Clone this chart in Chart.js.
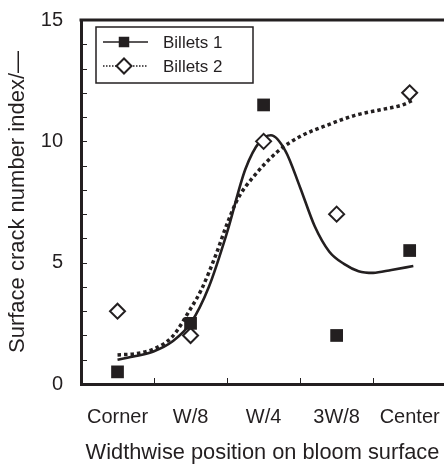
<!DOCTYPE html>
<html lang="en">
<head>
  <meta charset="UTF-8" />
  <title>Surface crack number index</title>
  <script src="https://cdn.jsdelivr.net/npm/chart.js"></script>
  <style>
    body { margin: 0; background: #fff; }
  </style>
</head>
<body>
  <canvas id="crackChart" width="444" height="466"></canvas>

  <script>
    const positions = ['Corner', 'W/8', 'W/4', '3W/8', 'Center'];
    const billets1 = [0.5, 2.5, 11.5, 2.0, 5.5];
    const billets2 = [3, 2, 10, 7, 12];
    const yTicks = [0, 5, 10, 15];

    // trend curves
    const fit1X = [0, 0.25, 0.5, 0.75, 1.0, 1.25, 1.5, 1.75, 1.95, 2.1, 2.3, 2.5, 2.7, 2.9, 3.1, 3.3, 3.5, 3.75, 4.05];
    const fit1Y = [1.0, 1.15, 1.35, 1.75, 2.5, 4.0, 6.25, 8.85, 10.0, 10.25, 9.6, 8.1, 6.5, 5.45, 4.95, 4.65, 4.58, 4.7, 4.86];
    const fit2X = [0, 0.25, 0.5, 0.75, 1.0, 1.15, 1.35, 1.5, 1.65, 1.85, 2.2, 2.5, 2.9, 3.25, 3.6, 3.9, 4.05];
    const fit2Y = [1.2, 1.25, 1.45, 1.95, 3.1, 3.9, 5.35, 6.6, 7.65, 8.5, 9.6, 10.2, 10.7, 11.07, 11.3, 11.5, 11.7];

    const ink = '#231f20';
    const family = "'Liberation Sans', Arial, sans-serif";

    const pts = (xs, ys) => ys.map((y, i) => ({ x: xs[i], y }));
    const idx = positions.map((_, i) => i);

    // inward ticks, top frame line and boxed legend
    const frame = {
      id: 'frame',
      afterDatasetsDraw(chart) {
        const { ctx, chartArea: a, scales: { x, y } } = chart;
        ctx.save();
        ctx.strokeStyle = ink;
        ctx.lineWidth = 1;
        ctx.beginPath();
        for (let v = 1; v < 15; v++) {
          const py = Math.round(y.getPixelForValue(v)) + 0.5;
          ctx.moveTo(a.left, py); ctx.lineTo(a.left + 6, py);
        }
        for (let v = 0.5; v < 4; v++) {
          const px = Math.round(x.getPixelForValue(v)) + 0.5;
          ctx.moveTo(px, a.bottom); ctx.lineTo(px, a.bottom - 6);
        }
        ctx.stroke();

        ctx.lineWidth = 3;
        ctx.beginPath();
        ctx.moveTo(a.left - 1.5, a.top); ctx.lineTo(a.right, a.top);
        ctx.stroke();

        // legend box
        const bx = 96, by = 27, bw = 157, bh = 56;
        ctx.fillStyle = '#fff';
        ctx.fillRect(bx, by, bw, bh);
        ctx.lineWidth = 1.5;
        ctx.strokeRect(bx, by, bw, bh);

        const rows = [
          { ds: chart.data.datasets[0], y: 42, dash: [] },
          { ds: chart.data.datasets[1], y: 66, dash: [1.5, 1.5] }
        ];
        ctx.font = '17px ' + family;
        ctx.textBaseline = 'middle';
        rows.forEach(r => {
          ctx.setLineDash(r.dash);
          ctx.lineWidth = 1.5;
          ctx.strokeStyle = ink;
          ctx.beginPath();
          ctx.moveTo(103, r.y); ctx.lineTo(148, r.y);
          ctx.stroke();
          ctx.setLineDash([]);
          ctx.fillStyle = r.ds.pointBackgroundColor;
          ctx.strokeStyle = ink;
          ctx.lineWidth = 2;
          Chart.helpers.drawPoint(ctx, {
            pointStyle: r.ds.pointStyle,
            radius: r.ds.pointStyle === 'rect' ? 6 : 7.5,
            borderWidth: 2
          }, 124, r.y);
          ctx.fillStyle = ink;
          ctx.fillText(r.ds.label, 163, r.y + 1);
        });
        ctx.restore();
      }
    };

    new Chart(document.getElementById('crackChart'), {
      type: 'scatter',
      data: {
        datasets: [
          {
            label: 'Billets 1',
            data: pts(idx, billets1),
            pointStyle: 'rect',
            pointRadius: 9,
            pointBackgroundColor: ink,
            pointBorderColor: ink,
            pointBorderWidth: 0,
            showLine: false
          },
          {
            label: 'Billets 2',
            data: pts(idx, billets2),
            pointStyle: 'rectRot',
            pointRadius: 7.5,
            pointBackgroundColor: '#fff',
            pointBorderColor: ink,
            pointBorderWidth: 2,
            showLine: false
          },
          {
            label: 'Billets 1 trend',
            data: pts(fit1X, fit1Y),
            showLine: true,
            borderColor: ink,
            borderWidth: 2.6,
            pointRadius: 0,
            cubicInterpolationMode: 'monotone'
          },
          {
            label: 'Billets 2 trend',
            data: pts(fit2X, fit2Y),
            showLine: true,
            borderColor: ink,
            borderWidth: 3.5,
            borderDash: [3.5, 3],
            pointRadius: 0,
            cubicInterpolationMode: 'monotone'
          }
        ]
      },
      options: {
        responsive: false,
        animation: false,
        layout: { autoPadding: false, padding: { top: 20, right: 0, left: 0, bottom: 0 } },
        plugins: { legend: { display: false }, tooltip: { enabled: false } },
        scales: {
          x: {
            type: 'linear',
            min: -0.5,
            max: 4.47,
            afterBuildTicks: s => { s.ticks = idx.map(v => ({ value: v })); },
            afterFit: s => { s.height = 82; s.paddingLeft = 0; s.paddingRight = 0; },
            grid: { display: false, drawTicks: false },
            border: { display: true, width: 3, color: ink },
            ticks: {
              color: ink,
              padding: 21,
              maxRotation: 0,
              autoSkip: false,
              font: { family, size: 20 },
              callback: v => positions[v]
            },
            title: {
              display: true,
              text: 'Widthwise position on bloom surface',
              color: ink,
              font: { family, size: 21.8 },
              padding: { top: 0, bottom: 0 }
            }
          },
          y: {
            min: 0,
            max: 15,
            afterBuildTicks: s => { s.ticks = yTicks.map(v => ({ value: v })); },
            afterFit: s => { s.width = 81; s.paddingTop = 0; s.paddingBottom = 0; },
            grid: { display: false, drawTicks: false },
            border: { display: true, width: 3, color: ink },
            ticks: { color: ink, padding: 18, font: { family, size: 20 } },
            title: {
              display: true,
              text: 'Surface crack number index/—',
              color: ink,
              font: { family, size: 22 },
              padding: { top: 5, bottom: 0 }
            }
          }
        }
      },
      plugins: [frame]
    });
  </script>
</body>
</html>
